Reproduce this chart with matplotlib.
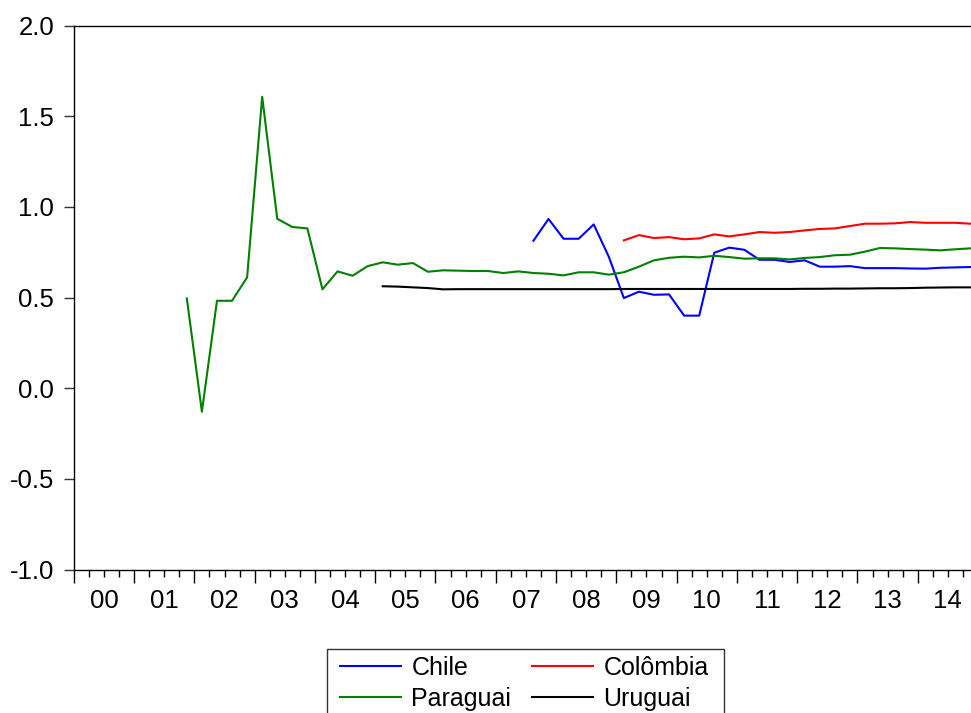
import numpy as np
from matplotlib import pyplot as plt
from matplotlib.patches import Rectangle

plt.rcParams['font.family'] = ['Liberation Sans', 'DejaVu Sans']

# quarterly data, quarter index 0 = 2000Q1
years = ['00', '01', '02', '03', '04', '05', '06', '07', '08', '09', '10', '11', '12', '13', '14']

chile_start = 30  # 2007Q3
chile = [0.813, 0.933,
         0.824, 0.824, 0.903, 0.725,
         0.497, 0.532, 0.515, 0.517,
         0.400, 0.400, 0.747, 0.775,
         0.763, 0.708, 0.708, 0.696,
         0.705, 0.670, 0.670, 0.673,
         0.662, 0.662, 0.662, 0.660,
         0.659, 0.664, 0.666, 0.668]

colombia_start = 36  # 2009Q1
colombia = [0.815, 0.844, 0.828, 0.833,
            0.821, 0.826, 0.848, 0.837,
            0.848, 0.861, 0.857, 0.861,
            0.870, 0.878, 0.881, 0.894,
            0.907, 0.907, 0.909, 0.916,
            0.912, 0.912, 0.912, 0.907]

paraguai_start = 7  # 2001Q4
paraguai = [0.495,
            -0.130, 0.482, 0.482, 0.611,
            1.607, 0.934, 0.889, 0.881,
            0.545, 0.644, 0.620, 0.673,
            0.694, 0.681, 0.690, 0.642,
            0.650, 0.648, 0.646, 0.646,
            0.635, 0.644, 0.635, 0.631,
            0.622, 0.639, 0.639, 0.626,
            0.639, 0.670, 0.705, 0.719,
            0.725, 0.721, 0.730, 0.723,
            0.714, 0.716, 0.716, 0.710,
            0.718, 0.723, 0.733, 0.736,
            0.753, 0.773, 0.771, 0.767,
            0.764, 0.760, 0.766, 0.771]

uruguai_start = 20  # 2005Q1
uruguai = [0.562, 0.560, 0.556, 0.552,
           0.545, 0.546, 0.546, 0.546,
           0.546, 0.546, 0.546, 0.546,
           0.546, 0.546, 0.546, 0.546,
           0.547, 0.547, 0.547, 0.547,
           0.547, 0.547, 0.547, 0.547,
           0.547, 0.547, 0.547, 0.547,
           0.548, 0.548, 0.549, 0.549,
           0.550, 0.551, 0.551, 0.552,
           0.554, 0.555, 0.556, 0.556]


def qx(start, vals):
    return np.arange(start, start + len(vals)) + 0.5


W, H = 971, 713
fs = 18.5
fig = plt.figure(figsize=(W / 100, H / 100), dpi=100)
ax = fig.add_axes([73.8 / W, 1 - 569.5 / H, (978 - 73.8) / W, 544 / H])

l1, = ax.plot(qx(chile_start, chile), chile, color='#0000ff', lw=1.5, label='Chile')
l2, = ax.plot(qx(colombia_start, colombia), colombia, color='#ff0000', lw=1.5, label='Colômbia')
l3, = ax.plot(qx(paraguai_start, paraguai), paraguai, color='#008000', lw=1.5, label='Paraguai')
l4, = ax.plot(qx(uruguai_start, uruguai), uruguai, color='black', lw=1.5, label='Uruguai')

ax.set_xlim(0, 60)
ax.set_ylim(-1.0, 2.0)
ax.set_yticks(np.arange(-1.0, 2.01, 0.5))
ax.set_yticklabels(['%.1f' % v for v in np.arange(-1.0, 2.01, 0.5)])
ax.tick_params(axis='y', direction='out', length=7, width=1, pad=7, labelsize=fs, color='#333333')

ax.set_xticks(range(0, 61, 4))
ax.set_xticklabels([])
ax.set_xticks(range(61), minor=True)
ax.tick_params(axis='x', which='major', direction='out', length=9, width=1)
ax.tick_params(axis='x', which='minor', direction='out', length=5, width=1)
for i, y in enumerate(years):
    ax.annotate(y, xy=(4 * i + 2, 0), xycoords=('data', 'axes fraction'),
                xytext=(0, -22.5), textcoords='offset points',
                ha='center', va='center', fontsize=fs)

for s in ax.spines.values():
    s.set_linewidth(1)

# row-major order like the original: Chile, Colômbia / Paraguai, Uruguai
leg = fig.legend([l1, l3, l2, l4], ['Chile', 'Paraguai', 'Colômbia', 'Uruguai'],
                 loc='upper left', bbox_to_anchor=(340 / W, 1 - 656 / H),
                 ncol=2, fontsize=18, frameon=False,
                 handlelength=2.45, handletextpad=0.4, columnspacing=0.84,
                 borderpad=0, labelspacing=0.27, borderaxespad=0)

# legend box, cut by the bottom edge like the original
fig.patches.append(Rectangle((327 / W, -0.02), (724 - 327) / W, 0.02 + 1 - 649 / H,
                             transform=fig.transFigure, fill=False,
                             edgecolor='#333333', lw=1))

plt.savefig('out.png', dpi=100)
